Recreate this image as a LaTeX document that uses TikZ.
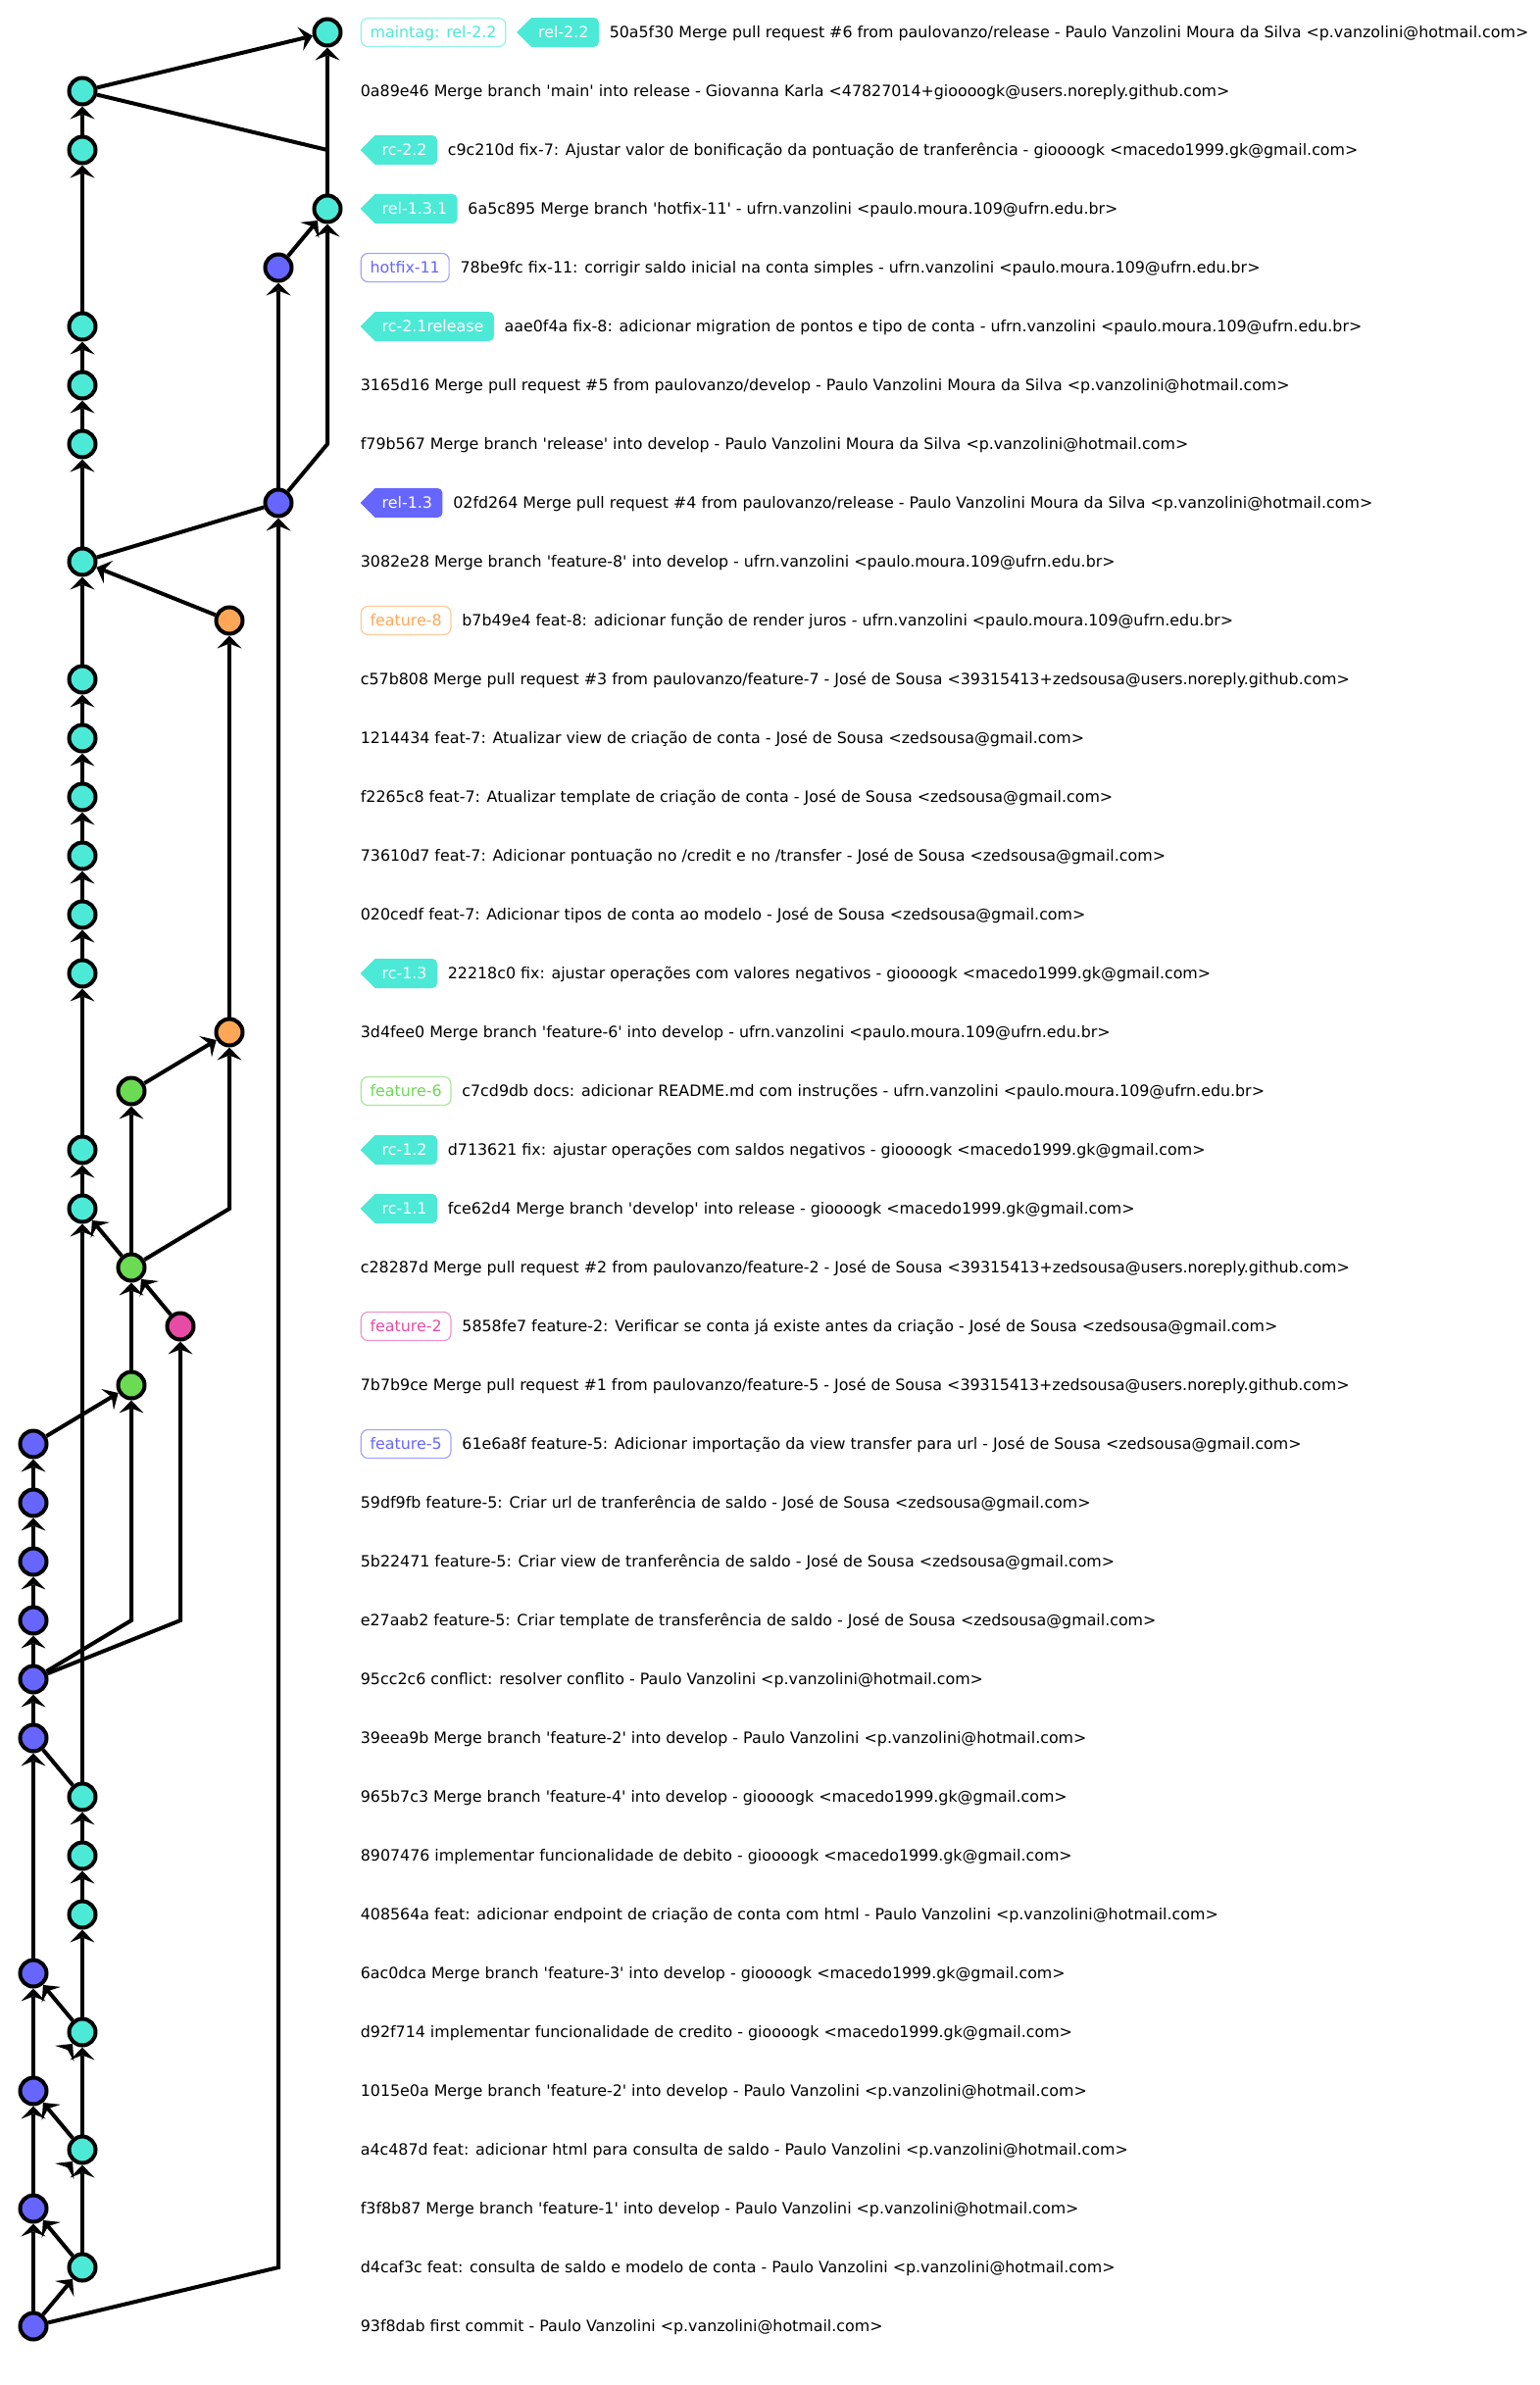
\documentclass[tikz,border=0pt]{standalone}
\usepackage{fontspec}
\setmainfont{DejaVu Sans}[Ligatures=TeXOff]
\usetikzlibrary{arrows.meta,positioning,calc}
\pgfdeclarelayer{bg}
\pgfsetlayers{bg,main}
\definecolor{cteal}{RGB}{76,233,214}
\definecolor{cpurple}{RGB}{102,102,255}
\definecolor{corange}{RGB}{255,167,86}
\definecolor{cgreen}{RGB}{106,219,82}
\definecolor{cpink}{RGB}{230,76,166}
\newcommand\q{\textquotesingle}
% filled, left-pointing tag: #1 name, #2 colour, #3 placement, #4 text
\newcommand\ftagnode[4]{%
  \node[ftag,#3] (#1) {\hspace*{11.5pt}#4};
  \begin{pgfonlayer}{bg}
    \fill[#2] (#1.west) -- ([xshift=15pt]#1.north west) [rounded corners=5pt] -- (#1.north east)
      -- (#1.south east) [sharp corners] -- ([xshift=15pt]#1.south west) -- cycle;
  \end{pgfonlayer}}
\begin{document}
\begin{tikzpicture}[x=1pt,y=-1pt,
  font=\fontsize{15.85pt}{19pt}\selectfont,
  commit/.style={circle,draw=black,line width=4pt,minimum size=27pt,inner sep=0pt,fill=#1},
  edge/.style={line width=4pt,-{Stealth[length=13pt,width=25pt,inset=5pt,line width=0pt]}},
  plain/.style={line width=4pt},
  msg/.style={anchor=west,inner sep=0pt,text height=11.7pt,text depth=0pt},
  otag/.style={anchor=west,rectangle,rounded corners=7pt,draw=#1!60!white,line width=1.2pt,text=#1,
    inner xsep=9.3pt,inner ysep=8.65pt,text height=11.7pt,text depth=0pt,fill=white},
  ftag/.style={anchor=west,rectangle,draw=none,text=white,outer sep=0pt,
    inner xsep=10.5pt,inner ysep=9.15pt,text height=11.7pt,text depth=0pt},
  gap/.style={right=10.7pt of #1}
]
\useasboundingbox (0,0) rectangle (1571,2433);
% commits
\node[commit=cteal] (n0) at (334,33) {};
\node[commit=cteal] (n1) at (84,93) {};
\node[commit=cteal] (n2) at (84,153) {};
\node[commit=cteal] (n3) at (334,213) {};
\node[commit=cpurple] (n4) at (284,273) {};
\node[commit=cteal] (n5) at (84,333) {};
\node[commit=cteal] (n6) at (84,393) {};
\node[commit=cteal] (n7) at (84,453) {};
\node[commit=cpurple] (n8) at (284,513) {};
\node[commit=cteal] (n9) at (84,573) {};
\node[commit=corange] (n10) at (234,633) {};
\node[commit=cteal] (n11) at (84,693) {};
\node[commit=cteal] (n12) at (84,753) {};
\node[commit=cteal] (n13) at (84,813) {};
\node[commit=cteal] (n14) at (84,873) {};
\node[commit=cteal] (n15) at (84,933) {};
\node[commit=cteal] (n16) at (84,993) {};
\node[commit=corange] (n17) at (234,1053) {};
\node[commit=cgreen] (n18) at (134,1113) {};
\node[commit=cteal] (n19) at (84,1173) {};
\node[commit=cteal] (n20) at (84,1233) {};
\node[commit=cgreen] (n21) at (134,1293) {};
\node[commit=cpink] (n22) at (184,1353) {};
\node[commit=cgreen] (n23) at (134,1413) {};
\node[commit=cpurple] (n24) at (34,1473) {};
\node[commit=cpurple] (n25) at (34,1533) {};
\node[commit=cpurple] (n26) at (34,1593) {};
\node[commit=cpurple] (n27) at (34,1653) {};
\node[commit=cpurple] (n28) at (34,1713) {};
\node[commit=cpurple] (n29) at (34,1773) {};
\node[commit=cteal] (n30) at (84,1833) {};
\node[commit=cteal] (n31) at (84,1893) {};
\node[commit=cteal] (n32) at (84,1953) {};
\node[commit=cpurple] (n33) at (34,2013) {};
\node[commit=cteal] (n34) at (84,2073) {};
\node[commit=cpurple] (n35) at (34,2133) {};
\node[commit=cteal] (n36) at (84,2193) {};
\node[commit=cpurple] (n37) at (34,2253) {};
\node[commit=cteal] (n38) at (84,2313) {};
\node[commit=cpurple] (n39) at (34,2373) {};
% connectors
\draw[edge] (n1) -- (n0);
\draw[edge] (n3) -- (n0);
\draw[plain] (n1) -- (n3 |- n2);
\draw[edge] (n2) -- (n1);
\draw[edge] (n4) -- (n3);
\draw[edge] (n8) -- (n3 |- n7) -- (n3);
\draw[edge] (n5) -- (n2);
\draw[edge] (n6) -- (n5);
\draw[edge] (n7) -- (n6);
\draw[edge] (n9) -- (n7);
\draw[edge] (n8) -- (n4);
\draw[plain] (n9) -- (n8);
\draw[edge] (n10) -- (n9);
\draw[edge] (n11) -- (n9);
\draw[edge] (n12) -- (n11);
\draw[edge] (n13) -- (n12);
\draw[edge] (n14) -- (n13);
\draw[edge] (n15) -- (n14);
\draw[edge] (n16) -- (n15);
\draw[edge] (n19) -- (n16);
\draw[edge] (n20) -- (n19);
\draw[edge] (n17) -- (n10);
\draw[edge] (n18) -- (n17);
\draw[edge] (n21) -- (n17 |- n20) -- (n17);
\draw[edge] (n21) -- (n18);
\draw[edge] (n21) -- (n20);
\draw[edge] (n22) -- (n21);
\draw[edge] (n23) -- (n21);
\draw[edge] (n24) -- (n23);
\draw[edge] (n28) -- (n23 |- n27) -- (n23);
\draw[edge] (n28) -- (n22 |- n27) -- (n22);
\draw[edge] (n25) -- (n24);
\draw[edge] (n26) -- (n25);
\draw[edge] (n27) -- (n26);
\draw[edge] (n28) -- (n27);
\draw[edge] (n29) -- (n28);
\draw[edge] (n33) -- (n29);
\draw[edge] (n35) -- (n33);
\draw[edge] (n37) -- (n35);
\draw[edge] (n39) -- (n37);
\draw[plain] (n30) -- (n29);
\draw[edge] (n30) -- (n20);
\draw[edge] (n31) -- (n30);
\draw[edge] (n32) -- (n31);
\draw[edge] (n34) -- (n32);
\draw[edge] (n36) -- (n34);
\draw[edge] (n38) -- (n36);
\draw[edge] (n34) -- (n33);
\draw[edge] (n36) -- (n35);
\draw[edge] (n38) -- (n37);
\draw[edge] (n39) -- (n38);
\draw[edge] (n39) -- (n8 |- n38) -- (n8);
% lone arrowheads (no visible shaft)
\coordinate (h36) at ($(n36)!0.305!(n37)$);
\draw[edge] (h36) -- (n36);
\coordinate (h34) at ($(n34)!0.305!(n35)$);
\draw[edge] (h34) -- (n34);
% labels
\node[otag=cteal] (ta0) at (367.7,33) {maintag: rel-2.2};
\ftagnode{tb0}{cteal}{gap=ta0}{rel-2.2}
\node[msg,gap=tb0] (m0) {50a5f30 Merge pull request \#6 from paulovanzo/release - Paulo Vanzolini Moura da Silva <p.vanzolini@hotmail.com>};
\node[msg] (m1) at (367.7,93) {0a89e46 Merge branch \q main\q{} into release - Giovanna Karla <47827014+gioooogk@users.noreply.github.com>};
\ftagnode{ta2}{cteal}{at={(367.7,153)}}{rc-2.2}
\node[msg,gap=ta2] (m2) {c9c210d fix-7: Ajustar valor de bonificação da pontuação de tranferência - gioooogk <macedo1999.gk@gmail.com>};
\ftagnode{ta3}{cteal}{at={(367.7,213)}}{rel-1.3.1}
\node[msg,gap=ta3] (m3) {6a5c895 Merge branch \q hotfix-11\q{} - ufrn.vanzolini <paulo.moura.109@ufrn.edu.br>};
\node[otag=cpurple] (ta4) at (367.7,273) {hotfix-11};
\node[msg,gap=ta4] (m4) {78be9fc fix-11: corrigir saldo inicial na conta simples - ufrn.vanzolini <paulo.moura.109@ufrn.edu.br>};
\ftagnode{ta5}{cteal}{at={(367.7,333)}}{rc-2.1release}
\node[msg,gap=ta5] (m5) {aae0f4a fix-8: adicionar migration de pontos e tipo de conta - ufrn.vanzolini <paulo.moura.109@ufrn.edu.br>};
\node[msg] (m6) at (367.7,393) {3165d16 Merge pull request \#5 from paulovanzo/develop - Paulo Vanzolini Moura da Silva <p.vanzolini@hotmail.com>};
\node[msg] (m7) at (367.7,453) {f79b567 Merge branch \q release\q{} into develop - Paulo Vanzolini Moura da Silva <p.vanzolini@hotmail.com>};
\ftagnode{ta8}{cpurple}{at={(367.7,513)}}{rel-1.3}
\node[msg,gap=ta8] (m8) {02fd264 Merge pull request \#4 from paulovanzo/release - Paulo Vanzolini Moura da Silva <p.vanzolini@hotmail.com>};
\node[msg] (m9) at (367.7,573) {3082e28 Merge branch \q feature-8\q{} into develop - ufrn.vanzolini <paulo.moura.109@ufrn.edu.br>};
\node[otag=corange] (ta10) at (367.7,633) {feature-8};
\node[msg,gap=ta10] (m10) {b7b49e4 feat-8: adicionar função de render juros - ufrn.vanzolini <paulo.moura.109@ufrn.edu.br>};
\node[msg] (m11) at (367.7,693) {c57b808 Merge pull request \#3 from paulovanzo/feature-7 - José de Sousa <39315413+zedsousa@users.noreply.github.com>};
\node[msg] (m12) at (367.7,753) {1214434 feat-7: Atualizar view de criação de conta - José de Sousa <zedsousa@gmail.com>};
\node[msg] (m13) at (367.7,813) {f2265c8 feat-7: Atualizar template de criação de conta - José de Sousa <zedsousa@gmail.com>};
\node[msg] (m14) at (367.7,873) {73610d7 feat-7: Adicionar pontuação no /credit e no /transfer - José de Sousa <zedsousa@gmail.com>};
\node[msg] (m15) at (367.7,933) {020cedf feat-7: Adicionar tipos de conta ao modelo - José de Sousa <zedsousa@gmail.com>};
\ftagnode{ta16}{cteal}{at={(367.7,993)}}{rc-1.3}
\node[msg,gap=ta16] (m16) {22218c0 fix: ajustar operações com valores negativos - gioooogk <macedo1999.gk@gmail.com>};
\node[msg] (m17) at (367.7,1053) {3d4fee0 Merge branch \q feature-6\q{} into develop - ufrn.vanzolini <paulo.moura.109@ufrn.edu.br>};
\node[otag=cgreen] (ta18) at (367.7,1113) {feature-6};
\node[msg,gap=ta18] (m18) {c7cd9db docs: adicionar README.md com instruções - ufrn.vanzolini <paulo.moura.109@ufrn.edu.br>};
\ftagnode{ta19}{cteal}{at={(367.7,1173)}}{rc-1.2}
\node[msg,gap=ta19] (m19) {d713621 fix: ajustar operações com saldos negativos - gioooogk <macedo1999.gk@gmail.com>};
\ftagnode{ta20}{cteal}{at={(367.7,1233)}}{rc-1.1}
\node[msg,gap=ta20] (m20) {fce62d4 Merge branch \q develop\q{} into release - gioooogk <macedo1999.gk@gmail.com>};
\node[msg] (m21) at (367.7,1293) {c28287d Merge pull request \#2 from paulovanzo/feature-2 - José de Sousa <39315413+zedsousa@users.noreply.github.com>};
\node[otag=cpink] (ta22) at (367.7,1353) {feature-2};
\node[msg,gap=ta22] (m22) {5858fe7 feature-2: Verificar se conta já existe antes da criação - José de Sousa <zedsousa@gmail.com>};
\node[msg] (m23) at (367.7,1413) {7b7b9ce Merge pull request \#1 from paulovanzo/feature-5 - José de Sousa <39315413+zedsousa@users.noreply.github.com>};
\node[otag=cpurple] (ta24) at (367.7,1473) {feature-5};
\node[msg,gap=ta24] (m24) {61e6a8f feature-5: Adicionar importação da view transfer para url - José de Sousa <zedsousa@gmail.com>};
\node[msg] (m25) at (367.7,1533) {59df9fb feature-5: Criar url de tranferência de saldo - José de Sousa <zedsousa@gmail.com>};
\node[msg] (m26) at (367.7,1593) {5b22471 feature-5: Criar view de tranferência de saldo - José de Sousa <zedsousa@gmail.com>};
\node[msg] (m27) at (367.7,1653) {e27aab2 feature-5: Criar template de transferência de saldo - José de Sousa <zedsousa@gmail.com>};
\node[msg] (m28) at (367.7,1713) {95cc2c6 conflict: resolver conflito - Paulo Vanzolini <p.vanzolini@hotmail.com>};
\node[msg] (m29) at (367.7,1773) {39eea9b Merge branch \q feature-2\q{} into develop - Paulo Vanzolini <p.vanzolini@hotmail.com>};
\node[msg] (m30) at (367.7,1833) {965b7c3 Merge branch \q feature-4\q{} into develop - gioooogk <macedo1999.gk@gmail.com>};
\node[msg] (m31) at (367.7,1893) {8907476 implementar funcionalidade de debito - gioooogk <macedo1999.gk@gmail.com>};
\node[msg] (m32) at (367.7,1953) {408564a feat: adicionar endpoint de criação de conta com html - Paulo Vanzolini <p.vanzolini@hotmail.com>};
\node[msg] (m33) at (367.7,2013) {6ac0dca Merge branch \q feature-3\q{} into develop - gioooogk <macedo1999.gk@gmail.com>};
\node[msg] (m34) at (367.7,2073) {d92f714 implementar funcionalidade de credito - gioooogk <macedo1999.gk@gmail.com>};
\node[msg] (m35) at (367.7,2133) {1015e0a Merge branch \q feature-2\q{} into develop - Paulo Vanzolini <p.vanzolini@hotmail.com>};
\node[msg] (m36) at (367.7,2193) {a4c487d feat: adicionar html para consulta de saldo - Paulo Vanzolini <p.vanzolini@hotmail.com>};
\node[msg] (m37) at (367.7,2253) {f3f8b87 Merge branch \q feature-1\q{} into develop - Paulo Vanzolini <p.vanzolini@hotmail.com>};
\node[msg] (m38) at (367.7,2313) {d4caf3c feat: consulta de saldo e modelo de conta - Paulo Vanzolini <p.vanzolini@hotmail.com>};
\node[msg] (m39) at (367.7,2373) {93f8dab first commit - Paulo Vanzolini <p.vanzolini@hotmail.com>};
\end{tikzpicture}
\end{document}
